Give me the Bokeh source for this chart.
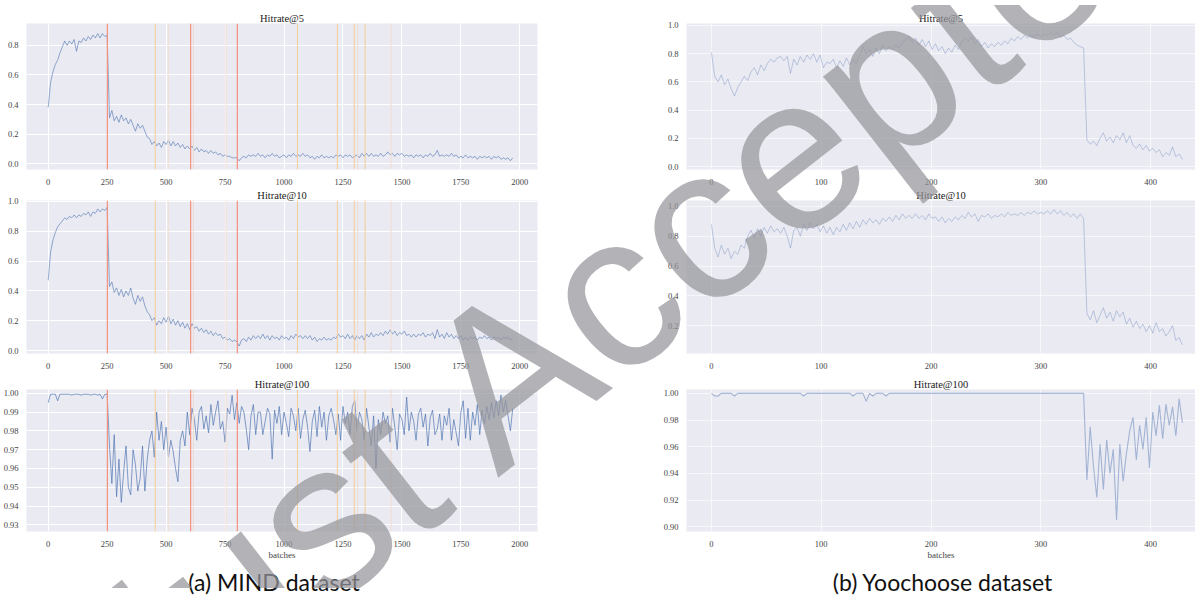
from bokeh.plotting import figure
from bokeh.models import Span, FixedTicker, PrintfTickFormatter, Range1d, Div, Spacer
from bokeh.layouts import column, row
from bokeh.embed import file_html
from bokeh.resources import INLINE

# ---------------- data ----------------
MIND_STEP = 10
YOO_STEP = 3

MIND_HR5 = [
    0.38, 0.55, 0.62, 0.67, 0.70, 0.75, 0.79, 0.83, 0.80, 0.83,
    0.81, 0.84, 0.76, 0.83, 0.82, 0.85, 0.83, 0.86, 0.84, 0.87,
    0.85, 0.88, 0.85, 0.88, 0.86, 0.87, 0.31, 0.36, 0.29, 0.32,
    0.28, 0.33, 0.29, 0.31, 0.27, 0.30, 0.26, 0.22, 0.27, 0.24,
    0.26, 0.22, 0.18, 0.17, 0.13, 0.15, 0.12, 0.14, 0.11, 0.15,
    0.13, 0.16, 0.12, 0.15, 0.12, 0.14, 0.11, 0.13, 0.10, 0.12,
    0.10, 0.12, 0.09, 0.11, 0.08, 0.10, 0.08, 0.09, 0.07, 0.09,
    0.07, 0.08, 0.06, 0.07, 0.05, 0.06, 0.05, 0.05, 0.04, 0.04,
    0.04, 0.02, 0.04, 0.05, 0.04, 0.06, 0.05, 0.06, 0.05, 0.07,
    0.05, 0.06, 0.04, 0.06, 0.05, 0.07, 0.05, 0.06, 0.04, 0.05,
    0.06, 0.04, 0.06, 0.05, 0.07, 0.05, 0.06, 0.05, 0.07, 0.05,
    0.06, 0.04, 0.05, 0.03, 0.05, 0.04, 0.06, 0.04, 0.05, 0.04,
    0.05, 0.04, 0.06, 0.05, 0.06, 0.04, 0.06, 0.05, 0.06, 0.04,
    0.05, 0.06, 0.04, 0.07, 0.05, 0.07, 0.05, 0.07, 0.05, 0.06,
    0.05, 0.07, 0.05, 0.06, 0.08, 0.06, 0.07, 0.05, 0.07, 0.06,
    0.07, 0.05, 0.06, 0.05, 0.06, 0.04, 0.06, 0.05, 0.06, 0.04,
    0.06, 0.05, 0.07, 0.05, 0.06, 0.09, 0.05, 0.06, 0.05, 0.06,
    0.05, 0.07, 0.05, 0.06, 0.04, 0.05, 0.04, 0.06, 0.04, 0.05,
    0.04, 0.05, 0.03, 0.05, 0.04, 0.05, 0.04, 0.05, 0.03, 0.05,
    0.04, 0.05, 0.03, 0.04, 0.03, 0.04, 0.02, 0.04,
]

MIND_HR10 = [
    0.47, 0.66, 0.74, 0.79, 0.83, 0.85, 0.87, 0.89, 0.88, 0.90,
    0.89, 0.91, 0.89, 0.91, 0.90, 0.92, 0.91, 0.93, 0.90, 0.93,
    0.92, 0.95, 0.93, 0.95, 0.94, 0.96, 0.43, 0.46, 0.39, 0.42,
    0.37, 0.41, 0.36, 0.40, 0.37, 0.42, 0.35, 0.31, 0.37, 0.33,
    0.36, 0.30, 0.26, 0.24, 0.20, 0.22, 0.17, 0.20, 0.18, 0.22,
    0.19, 0.23, 0.18, 0.21, 0.17, 0.20, 0.16, 0.19, 0.15, 0.18,
    0.14, 0.18, 0.15, 0.16, 0.13, 0.15, 0.12, 0.14, 0.11, 0.13,
    0.10, 0.12, 0.10, 0.11, 0.08, 0.09, 0.07, 0.08, 0.06, 0.07,
    0.06, 0.03, 0.07, 0.08, 0.06, 0.09, 0.07, 0.10, 0.08, 0.10,
    0.08, 0.11, 0.08, 0.10, 0.07, 0.10, 0.08, 0.09, 0.07, 0.10,
    0.08, 0.09, 0.07, 0.10, 0.08, 0.11, 0.09, 0.10, 0.08, 0.10,
    0.08, 0.10, 0.07, 0.09, 0.06, 0.08, 0.07, 0.09, 0.07, 0.08,
    0.07, 0.09, 0.08, 0.11, 0.09, 0.10, 0.08, 0.11, 0.08, 0.10,
    0.07, 0.10, 0.08, 0.10, 0.07, 0.11, 0.09, 0.12, 0.09, 0.11,
    0.10, 0.12, 0.10, 0.13, 0.11, 0.14, 0.11, 0.13, 0.10, 0.12,
    0.11, 0.13, 0.10, 0.11, 0.09, 0.11, 0.09, 0.11, 0.10, 0.12,
    0.09, 0.11, 0.10, 0.12, 0.08, 0.14, 0.09, 0.11, 0.08, 0.12,
    0.09, 0.11, 0.08, 0.10, 0.08, 0.10, 0.07, 0.09, 0.07, 0.09,
    0.08, 0.09, 0.07, 0.09, 0.08, 0.10, 0.08, 0.09, 0.07, 0.09,
    0.08, 0.09, 0.07, 0.09, 0.08, 0.09, 0.07, 0.08,
]

MIND_HR100 = [
    0.995, 0.9995, 0.9995, 0.9995, 0.996, 0.9995, 0.9995, 0.9995, 0.9995, 0.9995,
    0.999, 0.9995, 0.9995, 0.9995, 0.999, 0.9995, 0.9995, 0.9995, 0.999, 0.9995,
    0.9995, 0.999, 0.9995, 0.997, 0.9995, 0.9995, 0.972, 0.952, 0.978, 0.945,
    0.965, 0.942, 0.958, 0.972, 0.950, 0.946, 0.970, 0.962, 0.948, 0.955,
    0.972, 0.948, 0.965, 0.975, 0.980, 0.966, 0.990, 0.975, 0.985, 0.970,
    0.982, 0.966, 0.975, 0.969, 0.960, 0.953, 0.975, 0.980, 0.972, 0.990,
    0.978, 0.992, 0.986, 0.975, 0.990, 0.993, 0.981, 0.988, 0.979, 0.994,
    0.983, 0.990, 0.996, 0.981, 0.985, 0.974, 0.992, 0.989, 0.999, 0.986,
    0.995, 0.984, 0.993, 0.990, 0.981, 0.970, 0.988, 0.994, 0.978, 0.990,
    0.990, 0.978, 0.985, 0.992, 0.989, 0.965, 0.991, 0.984, 0.993, 0.978,
    0.990, 0.984, 0.977, 0.992, 0.988, 0.980, 0.992, 0.976, 0.986, 0.991,
    0.982, 0.969, 0.985, 0.991, 0.977, 0.993, 0.982, 0.990, 0.975, 0.988,
    0.992, 0.986, 0.978, 0.989, 0.975, 0.993, 0.984, 0.990, 0.978, 0.993,
    0.996, 0.980, 0.990, 0.986, 0.975, 0.992, 0.982, 0.972, 0.988, 0.960,
    0.986, 0.978, 0.990, 0.984, 0.988, 0.974, 0.992, 0.982, 0.970, 0.989,
    0.986, 0.978, 0.998, 0.980, 0.990, 0.985, 0.975, 0.989, 0.992, 0.982,
    0.989, 0.972, 0.987, 0.991, 0.978, 0.981, 0.989, 0.975, 0.988, 0.983,
    0.992, 0.975, 0.986, 0.979, 0.972, 0.990, 0.996, 0.976, 0.992, 0.975,
    0.990, 0.983, 0.994, 0.978, 0.991, 0.984, 0.993, 0.986, 0.995, 0.987,
    0.996, 0.988, 0.999, 0.990, 0.996, 0.988, 0.980, 0.992,
]

YOO_HR5 = [
    0.81, 0.64, 0.60, 0.65, 0.58, 0.62, 0.55, 0.50, 0.56, 0.60, 0.64, 0.61,
    0.67, 0.70, 0.65, 0.72, 0.68, 0.73, 0.76, 0.74, 0.77, 0.78, 0.75, 0.78,
    0.66, 0.76, 0.72, 0.78, 0.74, 0.79, 0.76, 0.80, 0.74, 0.79, 0.70, 0.74,
    0.73, 0.76, 0.70, 0.75, 0.71, 0.77, 0.72, 0.76, 0.73, 0.79, 0.85, 0.80,
    0.83, 0.78, 0.84, 0.80, 0.86, 0.82, 0.85, 0.83, 0.86, 0.84, 0.88, 0.90,
    0.92, 0.88, 0.91, 0.86, 0.90, 0.85, 0.89, 0.83, 0.87, 0.82, 0.85, 0.80,
    0.84, 0.81, 0.86, 0.83, 0.88, 0.91, 0.89, 0.92, 0.87, 0.90, 0.85, 0.88,
    0.84, 0.87, 0.85, 0.88, 0.86, 0.89, 0.87, 0.91, 0.89, 0.92, 0.90, 0.93,
    0.91, 0.93, 0.92, 0.94, 0.92, 0.94, 0.93, 0.95, 0.93, 0.95, 0.92, 0.93,
    0.90, 0.91, 0.88, 0.86, 0.85, 0.84, 0.19, 0.16, 0.18, 0.15, 0.20, 0.24,
    0.18, 0.21, 0.17, 0.22, 0.19, 0.24, 0.17, 0.22, 0.15, 0.13, 0.16, 0.12,
    0.15, 0.11, 0.13, 0.10, 0.12, 0.07, 0.10, 0.08, 0.14, 0.07, 0.09, 0.05,
]

YOO_HR10 = [
    0.88, 0.72, 0.66, 0.74, 0.68, 0.72, 0.65, 0.70, 0.68, 0.74, 0.72, 0.80,
    0.84, 0.79, 0.85, 0.80, 0.86, 0.82, 0.87, 0.83, 0.85, 0.82, 0.86, 0.80,
    0.72, 0.84, 0.86, 0.80, 0.88, 0.84, 0.89, 0.85, 0.88, 0.83, 0.87, 0.82,
    0.86, 0.81, 0.86, 0.83, 0.88, 0.84, 0.89, 0.85, 0.90, 0.86, 0.91, 0.88,
    0.92, 0.89, 0.91, 0.88, 0.92, 0.90, 0.93, 0.90, 0.94, 0.91, 0.95, 0.92,
    0.94, 0.92, 0.95, 0.92, 0.94, 0.91, 0.95, 0.92, 0.93, 0.90, 0.93, 0.89,
    0.92, 0.90, 0.93, 0.91, 0.94, 0.92, 0.96, 0.93, 0.95, 0.90, 0.94, 0.93,
    0.95, 0.92, 0.94, 0.93, 0.95, 0.93, 0.96, 0.94, 0.95, 0.94, 0.96, 0.94,
    0.96, 0.95, 0.97, 0.95, 0.96, 0.95, 0.97, 0.95, 0.98, 0.95, 0.97, 0.94,
    0.96, 0.93, 0.95, 0.92, 0.95, 0.92, 0.28, 0.24, 0.30, 0.22, 0.27, 0.32,
    0.25, 0.29, 0.23, 0.30, 0.26, 0.29, 0.21, 0.25, 0.19, 0.23, 0.18, 0.21,
    0.16, 0.20, 0.15, 0.22, 0.16, 0.18, 0.13, 0.16, 0.20, 0.10, 0.12, 0.07,
]

YOO_HR100_X = [0, 3, 6, 9, 18, 21, 24, 81, 84, 87, 126, 129, 132, 138, 141, 144,
               147, 150, 156, 159, 162, 339,
               342, 345, 348, 351, 354, 357, 360, 363, 366, 369, 372, 375, 378, 381,
               384, 387, 390, 393, 396, 399, 402, 405, 408, 411, 414, 417, 420, 423,
               426, 429]
YOO_HR100 = [1.0, 0.998, 0.998, 1.0, 1.0, 0.998, 1.0, 1.0, 0.998, 1.0, 1.0, 0.998,
             1.0, 1.0, 0.994, 1.0, 0.998, 1.0, 1.0, 0.998, 1.0, 1.0,
             0.935, 0.975, 0.945, 0.922, 0.962, 0.928, 0.965, 0.940, 0.958, 0.905,
             0.962, 0.934, 0.955, 0.972, 0.982, 0.950, 0.976, 0.958, 0.982, 0.944,
             0.986, 0.968, 0.991, 0.966, 0.992, 0.976, 0.990, 0.968, 0.996, 0.978]

# drift-detection markers on the MIND plots (batch index)
RED_MARKS = [251, 604, 802]
ORANGE_MARKS = [454, 1057, 1226, 1298, 1344]
FAINT_MARKS = [509, 616, 754, 1312, 1454]

MIND_XTICKS = [0, 250, 500, 750, 1000, 1250, 1500, 1750, 2000]
YOO_XTICKS = [0, 100, 200, 300, 400]

TITLES = ["Hitrate@5", "Hitrate@10", "Hitrate@100"]
CAPTIONS = ["(a) MIND dataset", "(b) Yoochoose dataset"]
XLABEL = "batches"
WATERMARK = "Just Accepted"

# ---------------- styling ----------------
BG = "#EAEAF2"
LINE = "#4C72B0"
SERIF = "Liberation Serif"
TICK_COLOR = "#444444"


def make_fig(title, xr, yr, w, h, top, bottom, left, right, yticks, yfmt, xticks,
             xlabel=None, grid_alpha=1.0):
    p = figure(width=w, height=h, x_range=Range1d(*xr), y_range=Range1d(*yr),
               output_backend="svg", toolbar_location=None, title=title,
               min_border_top=top, min_border_bottom=bottom,
               min_border_left=left, min_border_right=right)
    p.background_fill_color = BG
    p.border_fill_color = "white"
    p.outline_line_color = None
    p.title.align = "center"
    p.title.text_font = SERIF
    p.title.text_font_size = "10.5px"
    p.title.text_font_style = "normal"
    p.title.text_color = "#1a1a1a"
    p.title.standoff = 0
    p.title.offset = 0
    p.xaxis.ticker = FixedTicker(ticks=xticks)
    p.yaxis.ticker = FixedTicker(ticks=yticks)
    p.yaxis.formatter = PrintfTickFormatter(format=yfmt)
    for ax in (p.xaxis, p.yaxis):
        ax.axis_line_color = None
        ax.major_tick_line_color = None
        ax.minor_tick_line_color = None
        ax.major_label_text_font = SERIF
        ax.major_label_text_font_size = "8.5px"
        ax.major_label_text_color = TICK_COLOR
    p.xaxis.major_label_standoff = 3
    p.yaxis.major_label_standoff = 2
    if xlabel:
        p.xaxis.axis_label = xlabel
        p.xaxis.axis_label_text_font = SERIF
        p.xaxis.axis_label_text_font_size = "9px"
        p.xaxis.axis_label_text_font_style = "normal"
        p.xaxis.axis_label_text_color = TICK_COLOR
        p.xaxis.axis_label_standoff = 0
    for g in (p.xgrid, p.ygrid):
        g.grid_line_color = "white"
        g.grid_line_width = 1
        g.grid_line_alpha = grid_alpha
    return p


def add_marks(p):
    for x in FAINT_MARKS:
        p.add_layout(Span(location=x, dimension="height", line_color="#F1DDD0", line_width=1))
    for x in ORANGE_MARKS:
        p.add_layout(Span(location=x, dimension="height", line_color="#F6CC98", line_width=1))
    for x in RED_MARKS:
        p.add_layout(Span(location=x, dimension="height", line_color="#F4917C", line_width=1.2))


LW, RW = 542, 535
L_XR = (-92, 2075)
R_XR = (-22.7, 440.9)

rows_h = [177, 184, 191]
tops = [13, 13, 18]
bots = [15, 15, 23]

mind_series = [MIND_HR5, MIND_HR10, MIND_HR100]
mind_yr = [(-0.039, 0.948), (-0.020, 1.0067), (0.9265, 1.002)]
mind_yt = [[0, 0.2, 0.4, 0.6, 0.8], [0, 0.2, 0.4, 0.6, 0.8, 1.0],
           [0.93, 0.94, 0.95, 0.96, 0.97, 0.98, 0.99, 1.00]]
mind_fmt = ["%.1f", "%.1f", "%.2f"]

yoo_yr = [(-0.020, 1.0134), (0.013, 1.04), (0.8964, 1.0029)]
yoo_yt = [[0, 0.2, 0.4, 0.6, 0.8, 1.0], [0.2, 0.4, 0.6, 0.8, 1.0],
          [0.90, 0.92, 0.94, 0.96, 0.98, 1.00]]
yoo_fmt = ["%.1f", "%.1f", "%.2f"]

left_figs, right_figs = [], []
for i in range(3):
    xl = XLABEL if i == 2 else None
    pl = make_fig(TITLES[i], L_XR, mind_yr[i], LW, rows_h[i], tops[i], bots[i], 17, 5,
                  mind_yt[i], mind_fmt[i], MIND_XTICKS, xl, 1.0)
    add_marks(pl)
    ys = mind_series[i]
    xs = list(range(0, MIND_STEP * len(ys), MIND_STEP))
    pl.line(xs, ys, line_color=LINE, line_width=0.8 if i == 2 else 0.7, line_alpha=0.85)
    left_figs.append(pl)

    pr = make_fig(TITLES[i], R_XR, yoo_yr[i], RW, rows_h[i], tops[i], bots[i], 25, 0,
                  yoo_yt[i], yoo_fmt[i], YOO_XTICKS, xl, 0.6)
    if i < 2:
        ys = YOO_HR5 if i == 0 else YOO_HR10
        xs = list(range(0, YOO_STEP * len(ys), YOO_STEP))
        pr.line(xs, ys, line_color=LINE, line_width=0.6, line_alpha=0.55)
    else:
        pr.line(YOO_HR100_X, YOO_HR100, line_color=LINE, line_width=1.1, line_alpha=0.45)
    right_figs.append(pr)

cap_a = Div(text='<div style="width:%dpx;text-align:center;font-family:Lato;font-size:23px;'
                 'line-height:28px;padding-top:1px;color:#111;">%s</div>' % (LW - 4, CAPTIONS[0]),
            width=LW, height=31)
cap_b = Div(text='<div style="width:%dpx;text-align:center;font-family:Lato;font-size:23px;'
                 'line-height:28px;padding-top:1px;padding-left:20px;color:#111;">%s</div>' % (RW, CAPTIONS[1]),
            width=RW, height=31)

left_col = column(*left_figs, cap_a)
right_col = column(*right_figs, cap_b)
body = row(left_col, Spacer(width=108, height=10), right_col)

wm_svg = ('<svg xmlns="http://www.w3.org/2000/svg" width="1185" height="583" '
          'style="position:absolute;left:0;top:0;pointer-events:none;">'
          '<text x="676" y="330" transform="rotate(-38 676 330)" text-anchor="middle" '
          'font-family="Liberation Sans" font-size="220" fill="rgb(150,150,155)" '
          'fill-opacity="0.72">%s</text></svg>' % WATERMARK)
wm = Div(text=wm_svg, width=1185, height=0,
         styles={"position": "relative", "z-index": "10", "overflow": "visible"})

root = column(wm, body)

open("out.html", "w").write(file_html(root, INLINE))
